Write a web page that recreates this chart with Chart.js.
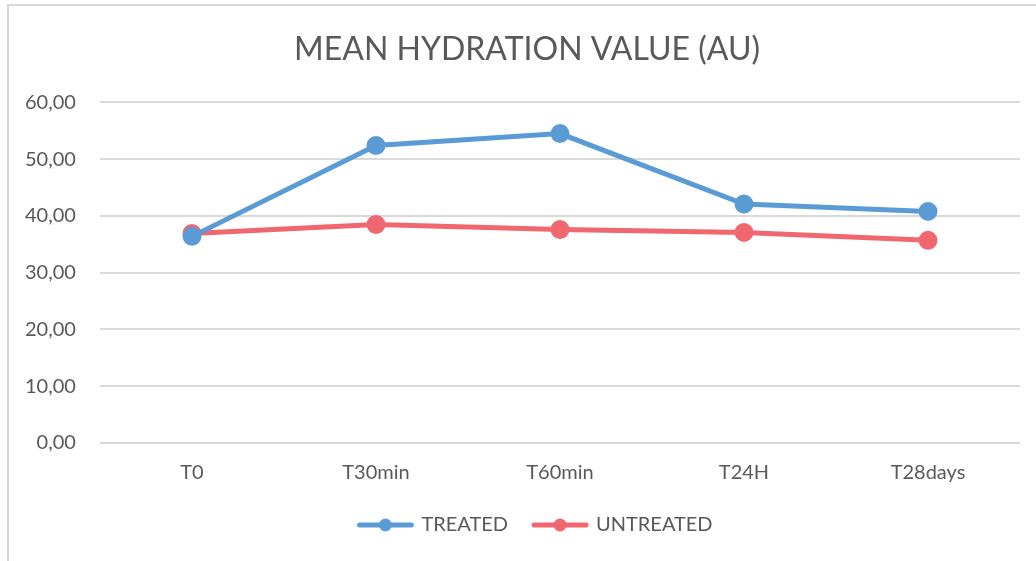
<!DOCTYPE html>
<html>
<head>
<meta charset="utf-8">
<script src="https://cdn.jsdelivr.net/npm/chart.js@4/dist/chart.umd.min.js"></script>
<style>
  body { margin: 0; background: #fff; }
  #wrap { position: relative; width: 1036px; height: 561px; }
  #frame { position: absolute; left: 7px; top: 4px; right: 0; bottom: 0; border-top: 2px solid #d9d9d9; border-left: 2px solid #d9d9d9; }
  canvas { position: absolute; left: 0; top: 0; }
</style>
</head>
<body>
<div id="wrap">
  <div id="frame"></div>
  <canvas id="mycanvas" width="1036" height="561"></canvas>
</div>
<script>
// timepoints
let timepoints = ['T0', 'T30min', 'T60min', 'T24H', 'T28days'];
let treated = [36.4, 52.4, 54.5, 42.1, 40.8];
let untreated = [36.9, 38.5, 37.6, 37.1, 35.7];
let yTicks = [0, 10, 20, 30, 40, 50, 60];

let blue = '#5b9bd5';
let red = '#f0676f';
let grey = '#595959';

// legend marker: short line with a dot in the middle, blank space on the left
function legendIcon(color) {
    let c = document.createElement('canvas');
    c.width = 76; c.height = 14;
    let g = c.getContext('2d');
    g.strokeStyle = color;
    g.lineWidth = 5;
    g.lineCap = 'round';
    g.beginPath();
    g.moveTo(21, 7); g.lineTo(73, 7);
    g.stroke();
    g.fillStyle = color;
    g.beginPath();
    g.arc(47, 7, 6.5, 0, Math.PI * 2);
    g.fill();
    return c;
}

let chartdata = {
    labels: timepoints,
    datasets: [
        {
            label: 'TREATED',
            data: treated,
            borderColor: blue,
            backgroundColor: blue,
            borderWidth: 5,
            pointRadius: 7,
            pointHoverRadius: 7,
            pointStyle: 'circle',
            lineTension: 0,
            fill: false
        }, {
            label: 'UNTREATED',
            data: untreated,
            borderColor: red,
            backgroundColor: red,
            borderWidth: 5,
            pointRadius: 7,
            pointHoverRadius: 7,
            pointStyle: 'circle',
            lineTension: 0,
            fill: false
        }
    ]
};

let icons = [legendIcon(blue), legendIcon(red)];

let ctx = document.getElementById('mycanvas');
let LineGraph = new Chart(ctx, {
    type: 'line',
    data: chartdata,
    options: {
        responsive: false,
        animation: false,
        layout: { padding: { left: 34, right: 16, top: 0, bottom: 16 } },
        plugins: {
            title: {
                display: true,
                text: 'MEAN HYDRATION VALUE (AU)',
                color: grey,
                font: { family: 'Lato', size: 32, weight: 'normal' },
                padding: { top: 30, bottom: 34 }
            },
            legend: {
                position: 'bottom',
                labels: {
                    color: grey,
                    font: { family: 'Lato', size: 20 },
                    usePointStyle: true,
                    pointStyleWidth: 70,
                    boxHeight: 14,
                    padding: 8,
                    generateLabels: function(chart) {
                        return chart.data.datasets.map(function(ds, i) {
                            return {
                                text: ds.label,
                                fontColor: grey,
                                pointStyle: icons[i],
                                datasetIndex: i,
                                hidden: false,
                                lineWidth: 0
                            };
                        });
                    }
                }
            },
            tooltip: { enabled: false }
        },
        scales: {
            x: {
                offset: true,
                grid: { display: false },
                border: { display: false },
                ticks: { color: grey, font: { family: 'Lato', size: 20 }, padding: 10 },
                afterFit: function(scale) { scale.height = 64; }
            },
            y: {
                min: 0,
                max: 60,
                afterBuildTicks: function(scale) {
                    scale.ticks = yTicks.map(function(v) { return { value: v }; });
                },
                grid: { color: '#d9d9d9', lineWidth: 2, drawTicks: false },
                border: { display: false },
                ticks: {
                    color: grey,
                    font: { family: 'Lato', size: 20 },
                    // mirrored + far alignment keeps labels right-aligned at x=80 without clipping
                    mirror: true,
                    crossAlign: 'far',
                    padding: -75,
                    callback: function(v) { return v.toFixed(2).replace('.', ','); }
                },
                afterFit: function(scale) { scale.width = 66; }
            }
        }
    }
});
</script>
</body>
</html>
